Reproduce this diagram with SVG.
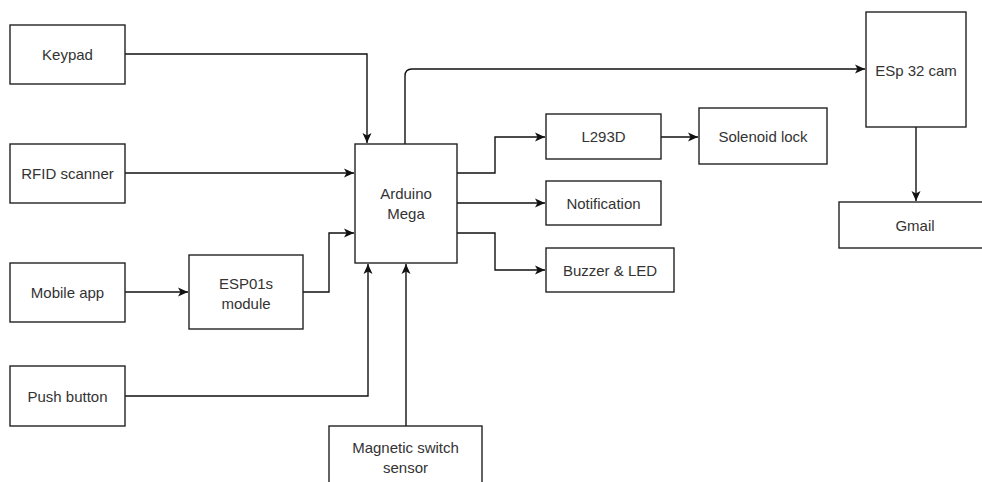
<svg xmlns="http://www.w3.org/2000/svg" width="982" height="482" viewBox="0 0 982 482">
<style>
.box{fill:#fff;stroke:#222;stroke-width:1.4}
.lbl{font-family:"Liberation Sans",Arial,sans-serif;font-size:15px;fill:#333;text-anchor:middle;dominant-baseline:central}
.edge{fill:none;stroke:#111;stroke-width:1.4}
</style>
<defs>
<marker id="arr" markerUnits="userSpaceOnUse" markerWidth="11" markerHeight="10" refX="10" refY="5" orient="auto">
<path d="M0,0.5 L10,5 L0,9.5 L2.5,5 Z" fill="#111"/>
</marker>
</defs>
<rect width="982" height="482" fill="#fff"/>
<g id="connectors">
<path class="edge" d="M125,54 H367 V143" marker-end="url(#arr)"/>
<path class="edge" d="M125,173 H354" marker-end="url(#arr)"/>
<path class="edge" d="M125,292 H188" marker-end="url(#arr)"/>
<path class="edge" d="M303,292 H329 V233 H354" marker-end="url(#arr)"/>
<path class="edge" d="M125,396 H368 V264" marker-end="url(#arr)"/>
<path class="edge" d="M406,426 V264" marker-end="url(#arr)"/>
<path class="edge" d="M405,144 V76 Q405,69 412,69 H865" marker-end="url(#arr)"/>
<path class="edge" d="M457,173 H495 V137 H545" marker-end="url(#arr)"/>
<path class="edge" d="M457,203 H545" marker-end="url(#arr)"/>
<path class="edge" d="M457,233 H495 V270 H545" marker-end="url(#arr)"/>
<path class="edge" d="M661,137 H698" marker-end="url(#arr)"/>
<path class="edge" d="M916,127 V201" marker-end="url(#arr)"/>
</g>
<g id="keypad"><rect class="box" x="10" y="25" width="115" height="59"/><text class="lbl" x="67.5" y="54.5">Keypad</text></g>
<g id="rfid"><rect class="box" x="10" y="144" width="115" height="59"/><text class="lbl" x="67.5" y="173.5">RFID scanner</text></g>
<g id="mobile"><rect class="box" x="10" y="263" width="115" height="59"/><text class="lbl" x="67.5" y="292.5">Mobile app</text></g>
<g id="push"><rect class="box" x="10" y="366" width="115" height="60"/><text class="lbl" x="67.5" y="396">Push button</text></g>
<g id="esp01s"><rect class="box" x="189" y="255" width="114" height="74"/><text class="lbl" x="246" y="283">ESP01s</text><text class="lbl" x="246" y="303">module</text></g>
<g id="arduino"><rect class="box" x="355" y="144" width="102" height="119"/><text class="lbl" x="406" y="193">Arduino</text><text class="lbl" x="406" y="213">Mega</text></g>
<g id="magnetic"><rect class="box" x="329" y="426" width="153" height="70"/><text class="lbl" x="405.5" y="447">Magnetic switch</text><text class="lbl" x="405.5" y="467">sensor</text></g>
<g id="l293d"><rect class="box" x="546" y="114" width="115" height="45"/><text class="lbl" x="603.5" y="136.5">L293D</text></g>
<g id="solenoid"><rect class="box" x="699" y="108" width="128" height="56"/><text class="lbl" x="763" y="136.5">Solenoid lock</text></g>
<g id="notification"><rect class="box" x="546" y="181" width="115" height="44"/><text class="lbl" x="603.5" y="203">Notification</text></g>
<g id="buzzer"><rect class="box" x="546" y="248" width="128" height="44"/><text class="lbl" x="610" y="270">Buzzer &amp; LED</text></g>
<g id="esp32cam"><rect class="box" x="866" y="12" width="100" height="115"/><text class="lbl" x="916" y="70">ESp 32 cam</text></g>
<g id="gmail"><rect class="box" x="839" y="202" width="153" height="46"/><text class="lbl" x="915" y="225">Gmail</text></g>
</svg>
